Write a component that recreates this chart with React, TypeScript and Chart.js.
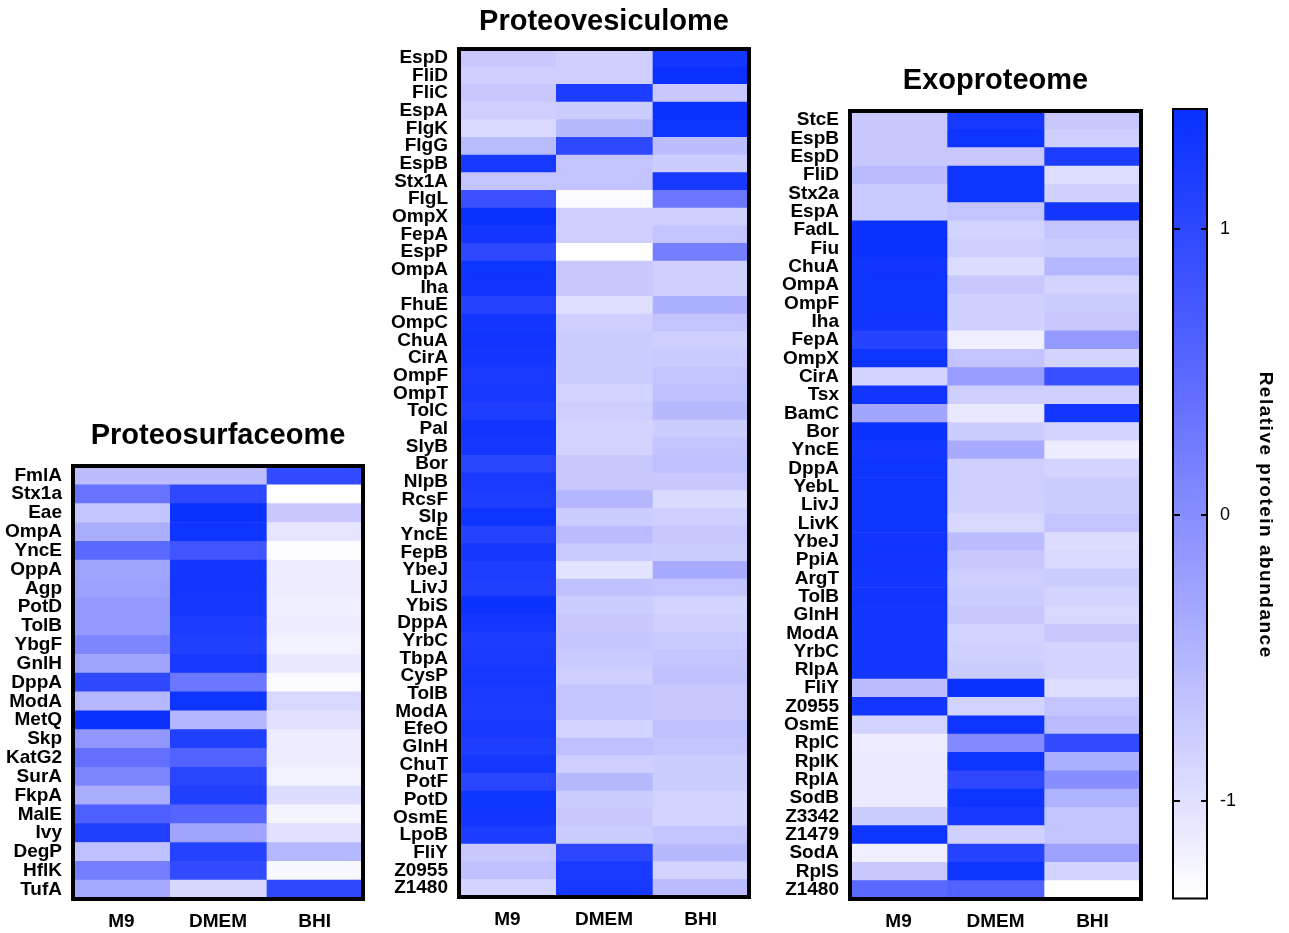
import React, { useEffect, useRef } from 'react';
import { Chart, registerables } from 'chart.js';

Chart.register(...registerables);

// ---------- data ----------
const conditions = ['M9', 'DMEM', 'BHI'];
const VMIN = -1.34;
const VMAX = 1.42;
const colorbarTicks = [-1, 0, 1];
const colorbarTitle = 'Relative protein abundance';

const surfaceRows = ['FmlA', 'Stx1a', 'Eae', 'OmpA', 'YncE', 'OppA', 'Agp', 'PotD', 'TolB', 'YbgF', 'GnlH', 'DppA', 'ModA', 'MetQ', 'Skp', 'KatG2', 'SurA', 'FkpA', 'MalE', 'Ivy', 'DegP', 'HflK', 'TufA'];
const surfaceM9 = [-0.6, 0.35, -0.68, -0.4, 0.5, -0.28, -0.25, -0.14, -0.14, 0.1, -0.28, 1.0, -0.52, 1.4, -0.12, 0.4, 0.1, -0.4, 0.65, 1.15, -0.62, 0.2, -0.33];
const surfaceDMEM = [-0.6, 1.0, 1.38, 1.35, 0.8, 1.3, 1.3, 1.28, 1.2, 1.15, 1.25, 0.3, 1.35, -0.5, 1.15, 0.6, 1.05, 1.15, 0.55, -0.28, 1.1, 0.95, -0.88];
const surfaceBHI = [0.95, -1.35, -0.72, -1.05, -1.32, -1.14, -1.14, -1.16, -1.14, -1.2, -1.1, -1.3, -0.9, -1.0, -1.14, -1.14, -1.2, -0.95, -1.22, -1.0, -0.52, -1.26, 1.0];

const vesicleRows = ['EspD', 'FliD', 'FliC', 'EspA', 'FlgK', 'FlgG', 'EspB', 'Stx1A', 'FlgL', 'OmpX', 'FepA', 'EspP', 'OmpA', 'Iha', 'FhuE', 'OmpC', 'ChuA', 'CirA', 'OmpF', 'OmpT', 'TolC', 'Pal', 'SlyB', 'Bor', 'NlpB', 'RcsF', 'Slp', 'YncE', 'FepB', 'YbeJ', 'LivJ', 'YbiS', 'DppA', 'YrbC', 'TbpA', 'CysP', 'TolB', 'ModA', 'EfeO', 'GlnH', 'ChuT', 'PotF', 'PotD', 'OsmE', 'LpoB', 'FliY', 'Z0955', 'Z1480'];
const vesicleM9 = [-0.72, -0.8, -0.72, -0.8, -0.9, -0.56, 1.25, -0.66, 0.85, 1.4, 1.3, 1.0, 1.35, 1.32, 1.1, 1.3, 1.32, 1.3, 1.22, 1.25, 1.18, 1.32, 1.28, 1.05, 1.22, 1.18, 1.35, 1.1, 1.28, 1.18, 1.15, 1.38, 1.3, 1.2, 1.22, 1.25, 1.22, 1.2, 1.25, 1.18, 1.28, 1.05, 1.35, 1.3, 1.2, -0.72, -0.62, -0.84];
const vesicleDMEM = [-0.8, -0.8, 1.2, -0.77, -0.54, 1.0, -0.67, -0.67, -1.3, -0.8, -0.8, -1.35, -0.72, -0.72, -0.98, -0.8, -0.77, -0.77, -0.77, -0.84, -0.8, -0.84, -0.84, -0.72, -0.72, -0.5, -0.77, -0.57, -0.74, -1.02, -0.64, -0.77, -0.72, -0.7, -0.74, -0.8, -0.68, -0.68, -0.84, -0.62, -0.8, -0.54, -0.77, -0.72, -0.77, 1.02, 1.22, 1.25];
const vesicleBHI = [1.3, 1.4, -0.72, 1.38, 1.35, -0.6, -0.77, 1.25, 0.3, -0.8, -0.67, 0.2, -0.8, -0.8, -0.42, -0.67, -0.8, -0.74, -0.67, -0.62, -0.54, -0.77, -0.67, -0.62, -0.72, -0.92, -0.8, -0.72, -0.77, -0.36, -0.67, -0.84, -0.8, -0.74, -0.68, -0.64, -0.72, -0.72, -0.62, -0.68, -0.77, -0.77, -0.84, -0.84, -0.68, -0.54, -0.84, -0.57];

const exoRows = ['StcE', 'EspB', 'EspD', 'FliD', 'Stx2a', 'EspA', 'FadL', 'Fiu', 'ChuA', 'OmpA', 'OmpF', 'Iha', 'FepA', 'OmpX', 'CirA', 'Tsx', 'BamC', 'Bor', 'YncE', 'DppA', 'YebL', 'LivJ', 'LivK', 'YbeJ', 'PpiA', 'ArgT', 'TolB', 'GlnH', 'ModA', 'YrbC', 'RlpA', 'FliY', 'Z0955', 'OsmE', 'RplC', 'RplK', 'RplA', 'SodB', 'Z3342', 'Z1479', 'SodA', 'RplS', 'Z1480'];
const exoM9 = [-0.72, -0.72, -0.72, -0.57, -0.74, -0.74, 1.38, 1.38, 1.32, 1.35, 1.35, 1.32, 1.08, 1.35, -0.84, 1.32, -0.3, 1.38, 1.3, 1.35, 1.35, 1.35, 1.35, 1.32, 1.32, 1.3, 1.32, 1.3, 1.3, 1.3, 1.3, -0.57, 1.3, -0.84, -1.14, -1.12, -1.12, -1.12, -0.77, 1.35, -1.16, -0.72, 0.5];
const exoDMEM = [1.25, 1.35, -0.72, 1.35, 1.35, -0.67, -0.84, -0.8, -0.95, -0.72, -0.82, -0.82, -1.16, -0.67, -0.2, -0.8, -1.08, -0.77, -0.36, -0.8, -0.8, -0.82, -0.9, -0.57, -0.72, -0.8, -0.77, -0.72, -0.84, -0.82, -0.77, 1.38, -0.84, 1.35, 0.05, 1.35, 1.0, 1.35, 1.25, -0.82, 1.1, 1.35, 0.6];
const exoBHI = [-0.72, -0.8, 1.2, -0.96, -0.82, 1.3, -0.68, -0.77, -0.52, -0.84, -0.77, -0.72, -0.14, -0.84, 0.88, -0.8, 1.3, -0.84, -1.14, -0.84, -0.77, -0.77, -0.68, -0.94, -0.9, -0.77, -0.84, -0.9, -0.72, -0.84, -0.84, -0.96, -0.68, -0.57, 0.95, -0.42, 0.0, -0.45, -0.68, -0.68, -0.26, -0.84, -1.35];

// ---------- helpers ----------
const FONT = "'Liberation Sans', Arial, Helvetica, sans-serif";

function colorFor(v: number): string {
  const f = Math.max(0, Math.min(1, (v - VMIN) / (VMAX - VMIN)));
  const r = 255 - 247 * f;
  const g = r + 40 * Math.pow(f, 2.5);
  return `rgb(${Math.round(r)},${Math.round(g)},255)`;
}

function framePlugin(lw: number) {
  return {
    id: 'frame',
    afterDraw(chart: any) {
      const { ctx, chartArea } = chart;
      const { left, top, right, bottom } = chartArea;
      ctx.save();
      ctx.lineWidth = lw;
      ctx.strokeStyle = '#000';
      ctx.strokeRect(left, top, right - left, bottom - top);
      ctx.restore();
    },
  };
}

type Pos = { left: number; top: number; width: number; height: number };

function Heatmap(props: {
  title: string;
  rows: string[];
  cols: number[][];
  pos: Pos;
  yAxisWidth: number;
  titlePadBottom: number;
}) {
  const ref = useRef<HTMLCanvasElement | null>(null);
  const { title, rows, cols, pos, yAxisWidth, titlePadBottom } = props;

  useEffect(() => {
    if (!ref.current) return;
    const datasets = cols.map((vals, j) => ({
      label: conditions[j],
      data: rows.map((r, i) => ({ y: r, x: [j, j + 1], v: vals[i] })),
      backgroundColor: (c: any) => colorFor(c.raw ? c.raw.v : 0),
      borderWidth: 0,
      grouped: false,
      barPercentage: 1,
      categoryPercentage: 1,
    }));
    const chart = new Chart(ref.current, {
      type: 'bar',
      data: { labels: rows, datasets: datasets as any },
      options: {
        indexAxis: 'y',
        animation: false,
        responsive: true,
        maintainAspectRatio: false,
        layout: { padding: { top: 0, right: 4, bottom: 0, left: 0 } },
        plugins: {
          legend: { display: false },
          tooltip: { enabled: false },
          title: {
            display: true,
            text: title,
            fullSize: false,
            color: '#000',
            font: { family: FONT, size: 29, weight: 'bold', lineHeight: 1.2 },
            padding: { top: 0, bottom: titlePadBottom },
          },
        },
        scales: {
          x: {
            type: 'linear',
            min: 0,
            max: 3,
            grid: { display: false, drawTicks: false },
            border: { display: false },
            afterBuildTicks: (s: any) => {
              s.ticks = conditions.map((_, j) => ({ value: j + 0.5 }));
            },
            ticks: {
              autoSkip: false,
              maxRotation: 0,
              padding: 11,
              color: '#000',
              font: { family: FONT, size: 19, weight: 'bold', lineHeight: 1.2 },
              callback: (v: any) => conditions[Math.floor(Number(v))],
            },
            afterFit: (s: any) => {
              s.height = 32;
              s.paddingLeft = 0;
              s.paddingRight = 0;
            },
          },
          y: {
            type: 'category',
            offset: true,
            grid: { display: false, drawTicks: false },
            border: { display: false },
            ticks: {
              autoSkip: false,
              padding: 11,
              color: '#000',
              font: { family: FONT, size: 19, weight: 'bold', lineHeight: 1.2 },
            },
            afterFit: (s: any) => {
              s.width = yAxisWidth;
              s.paddingTop = 0;
              s.paddingBottom = 0;
            },
          },
        },
      } as any,
      plugins: [framePlugin(4)],
    });
    return () => chart.destroy();
  }, []);

  return (
    <div style={{ position: 'absolute', left: pos.left, top: pos.top, width: pos.width, height: pos.height }}>
      <canvas ref={ref} />
    </div>
  );
}

function ColorBar(props: { pos: Pos }) {
  const ref = useRef<HTMLCanvasElement | null>(null);
  const { pos } = props;

  useEffect(() => {
    if (!ref.current) return;
    const gradientPlugin = {
      id: 'cbarGradient',
      beforeDatasetsDraw(chart: any) {
        const { ctx, chartArea, scales } = chart;
        const { left, top, right, bottom } = chartArea;
        const y = scales.y;
        const y0 = y.getPixelForValue(VMIN);
        const y1 = y.getPixelForValue(VMAX);
        const g = ctx.createLinearGradient(0, y0, 0, y1);
        const n = 20;
        for (let k = 0; k <= n; k++) {
          const v = VMIN + ((VMAX - VMIN) * k) / n;
          g.addColorStop(k / n, colorFor(v));
        }
        ctx.save();
        ctx.fillStyle = g;
        ctx.fillRect(left, top, right - left, bottom - top);
        ctx.restore();
      },
      afterDraw(chart: any) {
        const { ctx, chartArea, scales } = chart;
        const { left, top, right, bottom } = chartArea;
        const y = scales.y;
        ctx.save();
        ctx.strokeStyle = '#000';
        ctx.lineWidth = 2;
        ctx.strokeRect(left, top, right - left, bottom - top);
        y.ticks.forEach((t: any) => {
          const py = Math.round(y.getPixelForValue(t.value));
          ctx.beginPath();
          ctx.moveTo(left - 1, py);
          ctx.lineTo(left + 7, py);
          ctx.moveTo(right - 6, py);
          ctx.lineTo(right + 1, py);
          ctx.stroke();
        });
        // axis title, centred on the 0 tick
        const cx = y.right - 24;
        const cy = y.getPixelForValue(0);
        ctx.translate(cx, cy);
        ctx.rotate(Math.PI / 2);
        (ctx as any).letterSpacing = '1.5px';
        ctx.font = `bold 19px ${FONT}`;
        ctx.fillStyle = '#000';
        ctx.textAlign = 'center';
        ctx.textBaseline = 'middle';
        ctx.fillText(colorbarTitle, 0, 0);
        ctx.restore();
      },
    };
    const chart = new Chart(ref.current, {
      type: 'scatter',
      data: { datasets: [] },
      options: {
        animation: false,
        responsive: true,
        maintainAspectRatio: false,
        layout: { padding: { left: 13, top: 9, bottom: 11.5, right: 0 } },
        plugins: { legend: { display: false }, tooltip: { enabled: false } },
        scales: {
          x: { display: false, min: 0, max: 1 },
          y: {
            position: 'right',
            min: VMIN,
            max: VMAX,
            afterBuildTicks: (s: any) => {
              s.ticks = colorbarTicks.map((v) => ({ value: v }));
            },
            grid: { display: false, drawTicks: false },
            border: { display: false },
            ticks: {
              padding: 13,
              color: '#000',
              font: { family: FONT, size: 18, lineHeight: 1.2 },
              callback: (v: any) => String(v),
            },
            afterFit: (s: any) => {
              s.width = 82;
              s.paddingTop = 0;
              s.paddingBottom = 0;
            },
          },
        },
      } as any,
      plugins: [gradientPlugin],
    });
    return () => chart.destroy();
  }, []);

  return (
    <div style={{ position: 'absolute', left: pos.left, top: pos.top, width: pos.width, height: pos.height }}>
      <canvas ref={ref} />
    </div>
  );
}

export default function App() {
  return (
    <div style={{ position: 'absolute', left: 0, top: 0, width: 1289, height: 933 }}>
      <Heatmap
        title="Proteosurfaceome"
        rows={surfaceRows}
        cols={[surfaceM9, surfaceDMEM, surfaceBHI]}
        pos={{ left: 0, top: 419, width: 367, height: 512 }}
        yAxisWidth={73}
        titlePadBottom={12.2}
      />
      <Heatmap
        title="Proteovesiculome"
        rows={vesicleRows}
        cols={[vesicleM9, vesicleDMEM, vesicleBHI]}
        pos={{ left: 375, top: 5, width: 378, height: 924 }}
        yAxisWidth={84}
        titlePadBottom={9.2}
      />
      <Heatmap
        title="Exoproteome"
        rows={exoRows}
        cols={[exoM9, exoDMEM, exoBHI]}
        pos={{ left: 775, top: 64, width: 370, height: 867 }}
        yAxisWidth={75}
        titlePadBottom={12.2}
      />
      <ColorBar pos={{ left: 1160, top: 100, width: 129, height: 810 }} />
    </div>
  );
}
